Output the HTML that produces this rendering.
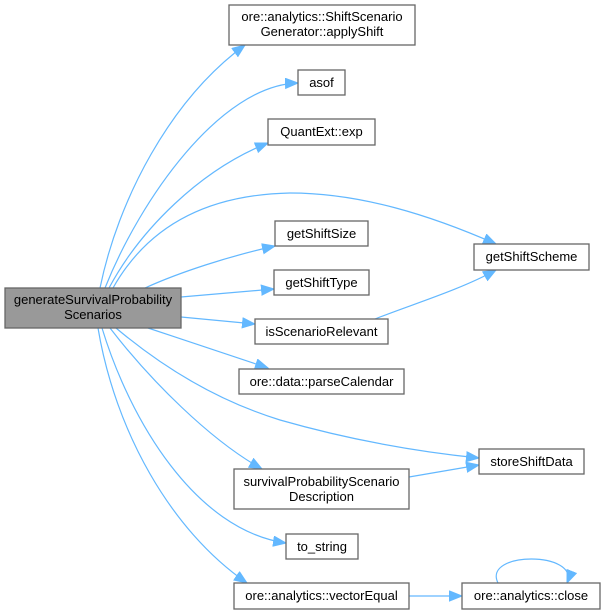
<!DOCTYPE html>
<html><head><meta charset="utf-8">
<style>
html,body{margin:0;padding:0;background:#fff;}
svg{display:block;}
text{font-family:"Liberation Sans",Arial,sans-serif;font-size:13px;fill:#000;text-anchor:middle;}
.n{fill:#fff;stroke:#666;stroke-width:1.3;}
.e{fill:none;stroke:#63b8ff;stroke-width:1.2;}
</style></head>
<body>
<svg width="607" height="614" viewBox="0 0 607 614" xmlns="http://www.w3.org/2000/svg">
<defs>
<marker id="a" markerUnits="userSpaceOnUse" markerWidth="15" markerHeight="12" refX="13" refY="5.5" orient="auto">
<path d="M0.5,0.5 L13,5.5 L0.5,10.5 z" fill="#63b8ff" stroke="#63b8ff" stroke-width="1"/>
</marker>
</defs>

<!-- edges -->
<path class="e" marker-end="url(#a)" d="M100,288 C118,200 170,100 245,45"/>
<path class="e" marker-end="url(#a)" d="M105,288 C140,200 220,85 298,83"/>
<path class="e" marker-end="url(#a)" d="M109,288 C140,230 200,170 268,143"/>
<path class="e" marker-end="url(#a)" d="M113,288 C140,240 190,195 290,193 C360,193 430,215 496,244"/>
<path class="e" marker-end="url(#a)" d="M145,288 C180,272 230,256 275,246"/>
<path class="e" marker-end="url(#a)" d="M181,297 L274,289"/>
<path class="e" marker-end="url(#a)" d="M181,317 L255,324"/>
<path class="e" marker-end="url(#a)" d="M148,328 C190,342 235,357 268,368"/>
<path class="e" marker-end="url(#a)" d="M116,328 C160,365 215,400 280,420 C350,440 420,452 479,458"/>
<path class="e" marker-end="url(#a)" d="M110,328 C150,380 210,440 262,469"/>
<path class="e" marker-end="url(#a)" d="M102,328 C130,420 195,530 286,543"/>
<path class="e" marker-end="url(#a)" d="M98,328 C115,430 170,530 247,583"/>
<path class="e" marker-end="url(#a)" d="M375,319 C410,305 460,290 496,270"/>
<path class="e" marker-end="url(#a)" d="M409,477 L479,465"/>
<path class="e" marker-end="url(#a)" d="M409,596 L462,596"/>
<path class="e" marker-end="url(#a)" d="M498,583 C482,551 580,551 567,583"/>

<!-- nodes -->
<rect x="5" y="288" width="176" height="40" fill="#999" stroke="#666" stroke-width="1.3"/>
<text x="93" y="304">generateSurvivalProbability</text>
<text x="93" y="319">Scenarios</text>

<rect class="n" x="229" y="5" width="186" height="40"/>
<text x="322" y="21">ore::analytics::ShiftScenario</text>
<text x="322" y="36">Generator::applyShift</text>

<rect class="n" x="298" y="70" width="47" height="25"/>
<text x="321.5" y="87">asof</text>

<rect class="n" x="268" y="119" width="107" height="26"/>
<text x="321.5" y="136">QuantExt::exp</text>

<rect class="n" x="275" y="221" width="93" height="25"/>
<text x="321.5" y="238">getShiftSize</text>

<rect class="n" x="274" y="270" width="95" height="25"/>
<text x="321.5" y="287">getShiftType</text>

<rect class="n" x="255" y="319" width="133" height="25"/>
<text x="321.5" y="336">isScenarioRelevant</text>

<rect class="n" x="239" y="369" width="165" height="25"/>
<text x="321.5" y="386">ore::data::parseCalendar</text>

<rect class="n" x="234" y="469" width="175" height="40"/>
<text x="321.5" y="486">survivalProbabilityScenario</text>
<text x="321.5" y="501">Description</text>

<rect class="n" x="286" y="534" width="72" height="25"/>
<text x="322" y="551">to_string</text>

<rect class="n" x="234" y="583" width="175" height="26"/>
<text x="321.5" y="600">ore::analytics::vectorEqual</text>

<rect class="n" x="474" y="244" width="115" height="26"/>
<text x="531.5" y="261">getShiftScheme</text>

<rect class="n" x="479" y="449" width="105" height="25"/>
<text x="531.5" y="466">storeShiftData</text>

<rect class="n" x="462" y="583" width="138" height="26"/>
<text x="531" y="600">ore::analytics::close</text>
</svg>
</body></html>
